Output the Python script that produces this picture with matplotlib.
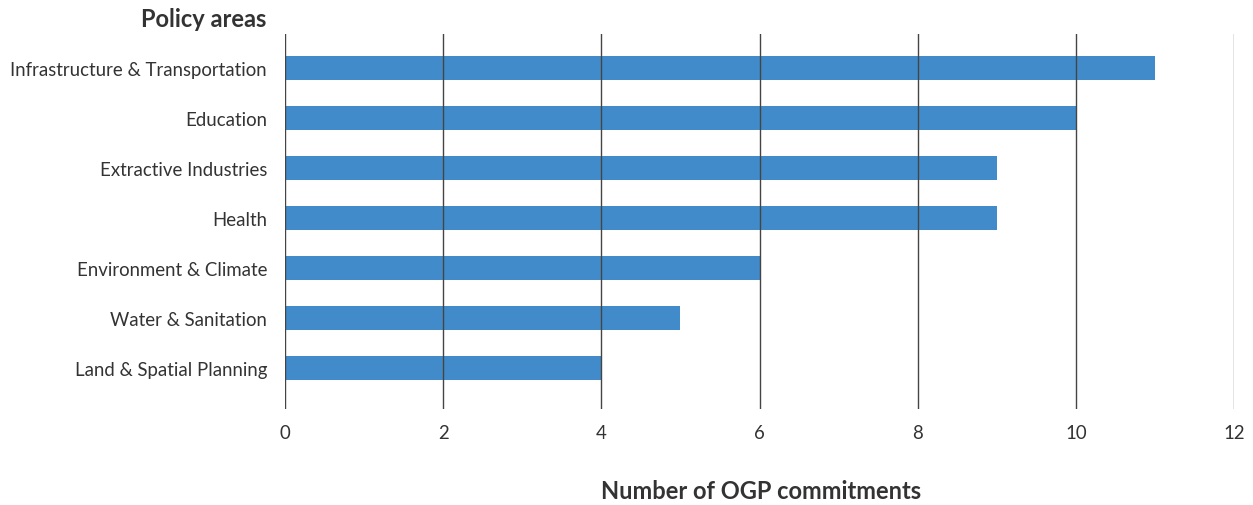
import matplotlib.pyplot as plt

# Policy areas and number of OGP commitments
categories = [
    "Infrastructure & Transportation",
    "Education",
    "Extractive Industries",
    "Health",
    "Environment & Climate",
    "Water & Sanitation",
    "Land & Spatial Planning",
]
values = [11, 10, 9, 9, 6, 5, 4]
x_ticks = [0, 2, 4, 6, 8, 10, 12]

plt.rcParams['font.family'] = ['Lato', 'DejaVu Sans']
text_color = '#333333'

fig = plt.figure(figsize=(12.53, 5.06), dpi=100)
ax = fig.add_axes([0.2275, 0.1897, 0.7573, 0.7411])

ax.barh(range(len(categories)), values, height=0.48, color='#428bca', zorder=1)

ax.set_xlim(0, 12)
ax.set_ylim(6.82, -0.68)
ax.set_xticks(x_ticks)
ax.set_yticks(range(len(categories)))
ax.set_yticklabels(categories)

for x in x_ticks:
    ax.axvline(x, color='#444444' if x < 12 else '#777777', linewidth=1, zorder=2)

for s in ax.spines.values():
    s.set_visible(False)
ax.tick_params(axis='both', length=0, labelsize=13.4, labelcolor=text_color)
ax.tick_params(axis='x', pad=11)
ax.tick_params(axis='y', pad=13)

fig.text(0.2123, 0.962, "Policy areas", ha='right', va='center',
         fontsize=17, fontweight='bold', color=text_color)
fig.text(0.607, 0.028, "Number of OGP commitments", ha='center', va='center',
         fontsize=17, fontweight='bold', color=text_color)

fig.savefig('out.png', dpi=100)
